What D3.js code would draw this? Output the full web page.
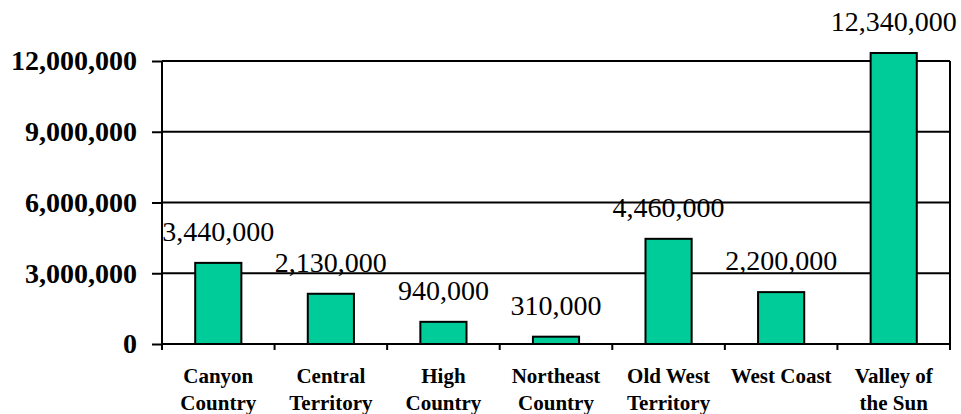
<!DOCTYPE html>
<html lang="en">
    <head>
        <meta charset="UTF-8" />
        <title>Sales by Region</title>
        <style>
            body {
                margin: 0;
                background: #fff;
            }
            text {
                font-family: "Liberation Serif", "Times New Roman", Times, serif;
            }
            .tickText {
                font-size: 28px;
                font-weight: bold;
            }
            .catText {
                font-size: 21px;
                font-weight: bold;
            }
            .valueText {
                font-size: 28px;
                font-weight: normal;
            }
            .grid {
                stroke: black;
                stroke-width: 2px;
            }
            .bar {
                fill: #00cc99;
                stroke: black;
                stroke-width: 2px;
            }
        </style>
    </head>
    <body>
        <script src="https://cdnjs.cloudflare.com/ajax/libs/d3/7.9.0/d3.min.js"></script>
        <svg width="961" height="414"></svg>
        <script>
            const regions = [
                ["Canyon", "Country"],
                ["Central", "Territory"],
                ["High", "Country"],
                ["Northeast", "Country"],
                ["Old West", "Territory"],
                ["West Coast"],
                ["Valley of", "the Sun"],
            ];
            const sales = [3440000, 2130000, 940000, 310000, 4460000, 2200000, 12340000];
            const yTicks = [0, 3000000, 6000000, 9000000, 12000000];

            const margin = { top: 61, right: 11, bottom: 70, left: 162 };
            const width = 961 - margin.left - margin.right;
            const height = 414 - margin.top - margin.bottom;
            const fmt = d3.format(",");

            const svg = d3
                .select("svg")
                .append("g")
                .attr("transform", "translate(" + margin.left + "," + margin.top + ")");

            const x = d3
                .scaleBand()
                .domain(d3.range(regions.length))
                .range([0, width]);
            const y = d3.scaleLinear().domain([0, 12000000]).range([height, 0]);
            const barWidth = x.bandwidth() * 0.41;

            // horizontal grid lines (top one doubles as the frame)
            svg.selectAll(".grid")
                .data(yTicks)
                .enter()
                .append("line")
                .attr("class", "grid")
                .attr("x1", 0)
                .attr("x2", width)
                .attr("y1", (d) => y(d))
                .attr("y2", (d) => y(d));

            // right frame edge
            svg.append("line")
                .attr("class", "grid")
                .attr("x1", width)
                .attr("x2", width)
                .attr("y1", 0)
                .attr("y2", height);

            svg.selectAll(".bar")
                .data(sales)
                .enter()
                .append("rect")
                .attr("class", "bar")
                .attr("x", (d, i) => x(i) + (x.bandwidth() - barWidth) / 2)
                .attr("y", (d) => y(d))
                .attr("width", barWidth)
                .attr("height", (d) => height - y(d));

            // y axis
            const yAxis = svg
                .append("g")
                .call(d3.axisLeft(y).tickValues(yTicks).tickSize(10).tickPadding(15).tickFormat(fmt));
            yAxis.attr("font-family", null).attr("font-size", null);
            yAxis.selectAll("line, path").attr("stroke", "black").attr("stroke-width", 2);
            yAxis.select(".domain").attr("d", "M0," + height + "V0");
            yAxis.selectAll("text").attr("class", "tickText").attr("fill", "black").attr("dy", "0.32em");

            // x axis: ticks at band boundaries
            const xAxis = svg.append("g").attr("transform", "translate(0," + height + ")");
            xAxis.append("line")
                .attr("class", "grid")
                .attr("x1", 0)
                .attr("x2", width);
            xAxis.selectAll(".xtick")
                .data(d3.range(regions.length + 1))
                .enter()
                .append("line")
                .attr("class", "grid")
                .attr("x1", (d) => (d < regions.length ? x(d) : width))
                .attr("x2", (d) => (d < regions.length ? x(d) : width))
                .attr("y1", 0)
                .attr("y2", 6);

            const cat = xAxis
                .selectAll(".cat")
                .data(regions)
                .enter()
                .append("text")
                .attr("class", "catText")
                .attr("text-anchor", "middle")
                .attr("transform", (d, i) => "translate(" + (x(i) + x.bandwidth() / 2) + ",39)");
            cat.selectAll("tspan")
                .data((d) => d)
                .enter()
                .append("tspan")
                .attr("x", 0)
                .attr("y", (d, i) => i * 27)
                .text((d) => d);

            // value labels
            svg.selectAll(".valueText")
                .data(sales)
                .enter()
                .append("text")
                .attr("class", "valueText")
                .attr("text-anchor", "middle")
                .attr("x", (d, i) => x(i) + x.bandwidth() / 2)
                .attr("y", (d) => y(d) - 22)
                .text((d) => fmt(d));
        </script>
    </body>
</html>
